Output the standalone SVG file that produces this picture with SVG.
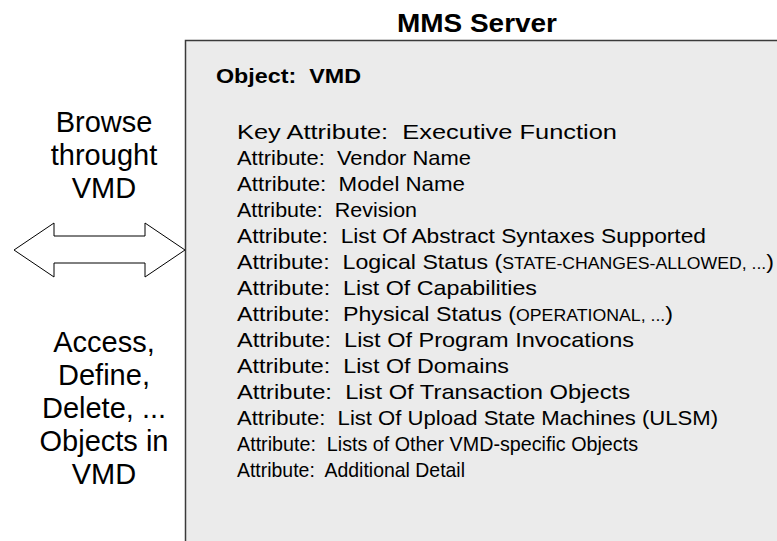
<svg xmlns="http://www.w3.org/2000/svg" width="777" height="541" viewBox="0 0 777 541">
  <style>
    text { white-space: pre; }
    .title { font-family: "Liberation Sans", Arial, sans-serif; font-weight: bold; font-size: 25px; fill: #000; }
    .side { font-family: "Liberation Sans", Arial, sans-serif; font-size: 29px; fill: #000; text-anchor: middle; }
    .objname { font-family: "Liberation Sans", Arial, sans-serif; font-weight: bold; font-size: 21px; fill: #000; }
    .attr { font-family: "Liberation Sans", Arial, sans-serif; font-size: 21px; fill: #000; }
    .sc { font-size: 16px; }
    .box { fill: #ebebeb; stroke: #3a3a3a; stroke-width: 1.5; }
    .arrow { fill: #fff; stroke: #000; stroke-width: 1; }
  </style>

  <!-- server container -->
  <g id="mms-server">
    <text class="title" x="477" y="32" text-anchor="middle" textLength="160" lengthAdjust="spacingAndGlyphs">MMS Server</text>
    <rect class="box" x="185.5" y="40.5" width="620" height="530"/>
  </g>

  <!-- VMD object and its attributes -->
  <g id="vmd-object">
    <text class="objname" x="216" y="83" textLength="145" lengthAdjust="spacingAndGlyphs">Object:  VMD</text>
    <g class="attr">
      <text x="237" y="139" textLength="380" lengthAdjust="spacingAndGlyphs">Key Attribute:  Executive Function</text>
      <text x="237" y="165" textLength="234" lengthAdjust="spacingAndGlyphs">Attribute:  Vendor Name</text>
      <text x="237" y="191" textLength="228" lengthAdjust="spacingAndGlyphs">Attribute:  Model Name</text>
      <text x="237" y="217" textLength="180" lengthAdjust="spacingAndGlyphs">Attribute:  Revision</text>
      <text x="237" y="243" textLength="469" lengthAdjust="spacingAndGlyphs">Attribute:  List Of Abstract Syntaxes Supported</text>
      <text x="237" y="269" textLength="537" lengthAdjust="spacingAndGlyphs">Attribute:  Logical Status (<tspan class="sc">STATE-CHANGES-ALLOWED, ...</tspan>)</text>
      <text x="237" y="295" textLength="300" lengthAdjust="spacingAndGlyphs">Attribute:  List Of Capabilities</text>
      <text x="237" y="321" textLength="436" lengthAdjust="spacingAndGlyphs">Attribute:  Physical Status (<tspan class="sc">OPERATIONAL, ...</tspan>)</text>
      <text x="237" y="347" textLength="397" lengthAdjust="spacingAndGlyphs">Attribute:  List Of Program Invocations</text>
      <text x="237" y="373" textLength="272" lengthAdjust="spacingAndGlyphs">Attribute:  List Of Domains</text>
      <text x="237" y="399" textLength="393" lengthAdjust="spacingAndGlyphs">Attribute:  List Of Transaction Objects</text>
      <text x="237" y="425" textLength="481" lengthAdjust="spacingAndGlyphs">Attribute:  List Of Upload State Machines (ULSM)</text>
      <text x="237" y="451" textLength="401" lengthAdjust="spacingAndGlyphs">Attribute:  Lists of Other VMD-specific Objects</text>
      <text x="237" y="477" textLength="228" lengthAdjust="spacingAndGlyphs">Attribute:  Additional Detail</text>
    </g>
  </g>

  <!-- client-side captions -->
  <g id="browse-label">
    <text class="side" x="104" y="132">Browse</text>
    <text class="side" x="104" y="165">throught</text>
    <text class="side" x="104" y="198">VMD</text>
  </g>
  <g id="access-label">
    <text class="side" x="104" y="352">Access,</text>
    <text class="side" x="104" y="385">Define,</text>
    <text class="side" x="104" y="418">Delete, ...</text>
    <text class="side" x="104" y="451">Objects in</text>
    <text class="side" x="104" y="484">VMD</text>
  </g>

  <!-- bidirectional access arrow -->
  <g id="connectors">
    <polygon class="arrow" points="14,250 54,223 54,236 145,236 145,223 185,250 145,277 145,263 54,263 54,277"/>
  </g>
</svg>
